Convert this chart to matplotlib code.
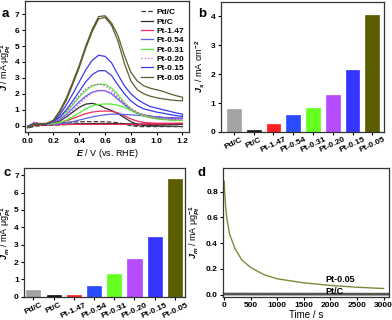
import numpy as np
import matplotlib
matplotlib.use("Agg")
import matplotlib.pyplot as plt

plt.rcParams['font.family'] = ['Liberation Sans', 'DejaVu Sans']
plt.rcParams['font.weight'] = 'bold'
plt.rcParams['mathtext.fontset'] = 'custom'
plt.rcParams['mathtext.rm'] = 'Liberation Sans:bold'
plt.rcParams['mathtext.it'] = 'Liberation Sans:italic:bold'
plt.rcParams['mathtext.bf'] = 'Liberation Sans:bold'
plt.rcParams['axes.linewidth'] = 0.9
plt.rcParams['axes.edgecolor'] = '#333333'

# ---- panel a: CV curves (two branches per sample) ----
potential = [0.0, 0.05, 0.1, 0.15, 0.2, 0.25, 0.3, 0.35, 0.4, 0.45, 0.5, 0.55, 0.6,
             0.65, 0.7, 0.75, 0.8, 0.85, 0.9, 0.95, 1.0, 1.05, 1.1, 1.15, 1.2]

pdc_up = [-0.1, 0.0, 0.05, 0.08, 0.1, 0.15, 0.2, 0.22, 0.24, 0.25, 0.25, 0.25, 0.24,
          0.22, 0.18, 0.1, 0.0, -0.05, -0.06, -0.06, -0.06, -0.06, -0.06, -0.06, -0.06]
pdc_low = [-0.15, -0.05, 0.0, 0.02, 0.03, 0.05, 0.07, 0.08, 0.1, 0.1, 0.1, 0.1, 0.1,
           0.1, 0.1, 0.08, 0.05, 0.02, 0.0, -0.02, -0.03, -0.04, -0.05, -0.05, -0.06]
ptc_up = [-0.05, 0.1, 0.08, 0.08, 0.15, 0.3, 0.55, 0.85, 1.15, 1.35, 1.4, 1.3, 1.1,
          0.95, 0.75, 0.5, 0.25, 0.08, 0.03, 0.02, 0.03, 0.04, 0.05, 0.06, 0.08]
ptc_low = [-0.1, 0.05, 0.05, 0.06, 0.07, 0.08, 0.1, 0.1, 0.12, 0.12, 0.13, 0.13, 0.13,
           0.13, 0.12, 0.12, 0.11, 0.1, 0.1, 0.1, 0.1, 0.1, 0.1, 0.1, 0.1]
pt147_up = [-0.05, 0.15, 0.1, 0.08, 0.12, 0.2, 0.3, 0.45, 0.6, 0.75, 0.85, 0.9, 0.92,
            0.9, 0.8, 0.62, 0.42, 0.28, 0.2, 0.17, 0.15, 0.15, 0.15, 0.15, 0.15]
pt147_low = [-0.1, 0.05, 0.05, 0.05, 0.05, 0.06, 0.07, 0.08, 0.08, 0.08, 0.08, 0.08, 0.08,
             0.08, 0.08, 0.08, 0.08, 0.08, 0.09, 0.1, 0.1, 0.11, 0.12, 0.13, 0.14]
pt054_up = [-0.05, 0.12, 0.1, 0.1, 0.2, 0.4, 0.7, 1.1, 1.5, 1.85, 2.1, 2.2, 2.2,
            2.0, 1.65, 1.3, 1.0, 0.8, 0.68, 0.6, 0.55, 0.5, 0.47, 0.45, 0.45]
pt054_low = [-0.1, 0.08, 0.08, 0.08, 0.1, 0.12, 0.18, 0.25, 0.35, 0.45, 0.55, 0.62, 0.68,
             0.72, 0.72, 0.7, 0.68, 0.65, 0.62, 0.58, 0.55, 0.52, 0.5, 0.48, 0.47]
pt031_up = [-0.05, 0.12, 0.12, 0.12, 0.25, 0.5, 0.85, 1.3, 1.8, 2.2, 2.5, 2.6, 2.6,
            2.35, 1.95, 1.45, 1.05, 0.8, 0.65, 0.55, 0.48, 0.42, 0.38, 0.35, 0.33]
pt031_low = [-0.1, 0.1, 0.1, 0.1, 0.12, 0.2, 0.35, 0.55, 0.8, 1.05, 1.25, 1.33, 1.36,
             1.35, 1.28, 1.15, 0.95, 0.75, 0.6, 0.5, 0.42, 0.38, 0.35, 0.33, 0.32]
pt020_up = [-0.05, 0.22, 0.15, 0.12, 0.25, 0.5, 0.9, 1.4, 1.9, 2.3, 2.55, 2.6, 2.5,
            2.2, 1.8, 1.35, 1.0, 0.75, 0.6, 0.5, 0.45, 0.42, 0.4, 0.38, 0.36]
pt020_low = [-0.1, 0.2, 0.12, 0.1, 0.18, 0.35, 0.6, 0.95, 1.35, 1.75, 2.05, 2.2, 2.2,
             2.05, 1.75, 1.4, 1.1, 0.85, 0.7, 0.6, 0.52, 0.48, 0.45, 0.43, 0.42]
pt015_up = [-0.05, 0.15, 0.12, 0.12, 0.3, 0.7, 1.3, 2.0, 2.75, 3.5, 4.1, 4.42, 4.35,
            3.95, 3.2, 2.5, 2.0, 1.65, 1.4, 1.2, 1.1, 1.0, 0.9, 0.8, 0.72]
pt015_low = [-0.1, 0.1, 0.1, 0.1, 0.25, 0.55, 1.0, 1.55, 2.15, 2.75, 3.2, 3.45, 3.45,
             3.15, 2.55, 2.0, 1.55, 1.25, 1.05, 0.95, 0.85, 0.78, 0.7, 0.63, 0.57]
pt005_up = [-0.1, 0.12, 0.12, 0.15, 0.35, 0.95, 1.75, 2.75, 3.8, 5.0, 6.05, 6.85, 6.9,
            6.45, 5.65, 4.4, 3.35, 2.8, 2.5, 2.35, 2.25, 2.15, 2.0, 1.88, 1.78]
pt005_low = [-0.15, 0.08, 0.1, 0.12, 0.3, 0.85, 1.6, 2.6, 3.65, 4.85, 5.9, 6.7, 6.8,
             6.3, 5.3, 3.9, 2.8, 2.25, 2.0, 1.85, 1.75, 1.68, 1.62, 1.58, 1.55]

# ---- panels b, c: bars ----
samples = ["Pd/C", "Pt/C", "Pt-1.47", "Pt-0.54", "Pt-0.31", "Pt-0.20", "Pt-0.15", "Pt-0.05"]
specific_act = [0.78, 0.08, 0.26, 0.57, 0.82, 1.26, 2.14, 4.05]
mass_act = [0.38, 0.08, 0.13, 0.63, 1.33, 2.2, 3.45, 6.8]
bar_colors = ["#a3a3a3", "#151515", "#ff1f1f", "#2a4cff", "#66ff22", "#b54dff", "#3535ff", "#5c5c00"]

# ---- panel d: chronoamperometry ----
time_s = [0, 5, 10, 25, 50, 100, 200, 330, 500, 750, 1000, 1500, 2000, 2500, 3000]
jm_pt005 = [0.88, 0.83, 0.79, 0.69, 0.59, 0.47, 0.36, 0.27, 0.21, 0.155, 0.123, 0.092, 0.072, 0.058, 0.048]
time_ptc = [0, 3100]
jm_ptc = [0.005, 0.004]

fig = plt.figure(figsize=(3.92, 3.2), dpi=100)

tick_kw = dict(direction='out', length=2.5, width=0.8, labelsize=6, pad=1.5)

# panel a
ax = fig.add_axes([0.064, 0.5875, 0.418, 0.408])
cv = [
    ("Pd/C", pdc_up, pdc_low, "#3a3a3a", "--"),
    ("Pt/C", ptc_up, ptc_low, "#2b2b2b", "-"),
    ("Pt-1.47", pt147_up, pt147_low, "#ee2a5a", "-"),
    ("Pt-0.54", pt054_up, pt054_low, "#5a62ee", "-"),
    ("Pt-0.31", pt031_up, pt031_low, "#55ee33", "-"),
    ("Pt-0.20", pt020_up, pt020_low, "#dd44dd", ":"),
    ("Pt-0.15", pt015_up, pt015_low, "#3a3aee", "-"),
    ("Pt-0.05", pt005_up, pt005_low, "#5e5e2e", "-"),
]
for name, up, low, col, ls in cv:
    xs = potential + potential[::-1]
    ys = up + low[::-1]
    ax.plot(xs, ys, color=col, ls=ls, lw=0.9, label=name)
ax.set_xlim(-0.02, 1.25)
ax.set_ylim(-0.4, 7.8)
ax.set_xticks([0.0, 0.2, 0.4, 0.6, 0.8, 1.0, 1.2])
ax.set_yticks(range(8))
ax.tick_params(**tick_kw)
ax.set_xlabel("$E$ / V (vs. RHE)", fontsize=6.5, labelpad=2)
ax.set_ylabel(r"$J$ / mA$\cdot$μg$_{Pt}^{-1}$", fontsize=6.5, labelpad=1)
ax.legend(loc='upper right', bbox_to_anchor=(1.0, 0.985), frameon=False, fontsize=6,
          handlelength=1.4, handletextpad=0.4, labelspacing=0.18, borderaxespad=0.2)

# panel b
ax = fig.add_axes([0.564, 0.5875, 0.416, 0.4075])
xb = np.arange(len(samples))
ax.bar(xb, specific_act, width=0.7, color=bar_colors, edgecolor=bar_colors, lw=0.5)
ax.set_xlim(-0.65, 7.6)
ax.set_ylim(0, 4.5)
ax.set_yticks([0, 1, 2, 3, 4])
ax.set_xticks(xb)
ax.set_xticklabels(samples, rotation=25, ha='center', fontsize=6)
ax.tick_params(**tick_kw)
ax.tick_params(axis='x', pad=0.5)
ax.set_ylabel(r"$J_s$ / mA cm$^{-2}$", fontsize=6.5, labelpad=3)

# panel c
ax = fig.add_axes([0.062, 0.071, 0.41, 0.403])
ax.bar(xb, mass_act, width=0.7, color=bar_colors, edgecolor=bar_colors, lw=0.5)
ax.set_xlim(-0.45, 7.5)
ax.set_ylim(-0.03, 7.4)
ax.set_yticks(range(8))
ax.set_xticks(xb)
ax.set_xticklabels(samples, rotation=25, ha='center', fontsize=6)
ax.tick_params(**tick_kw)
ax.tick_params(axis='x', pad=0.5)
ax.set_ylabel(r"$J_m$ / mA μg$_{Pt}^{-1}$", fontsize=6.5, labelpad=0.5)

# panel d
ax = fig.add_axes([0.570, 0.073, 0.422, 0.401])
ax.plot(time_s, jm_pt005, color="#7a8a3a", lw=1.0)
ax.plot(time_ptc, jm_ptc, color="#555555", lw=2.0)
ax.text(1900, 0.116, "Pt-0.05", fontsize=6.5, va='center')
ax.text(1900, 0.027, "Pt/C", fontsize=6.5, va='center')
ax.set_xlim(-15, 3100)
ax.set_ylim(-0.015, 0.98)
ax.set_xticks([0, 500, 1000, 1500, 2000, 2500, 3000])
ax.set_yticks([0.0, 0.2, 0.4, 0.6, 0.8])
ax.tick_params(**tick_kw)
ax.set_xlabel("Time / s", fontsize=7, labelpad=0.5)
ax.set_ylabel(r"$J_m$ / mA μg$_{Pt}^{-1}$", fontsize=6.5, labelpad=3)

for lab, x, y in [("a", 0.005, 0.975), ("b", 0.505, 0.975), ("c", 0.008, 0.478), ("d", 0.505, 0.478)]:
    fig.text(x, y, lab, fontsize=9.5, fontweight='bold', va='top')

fig.savefig("out.png", dpi=100)
